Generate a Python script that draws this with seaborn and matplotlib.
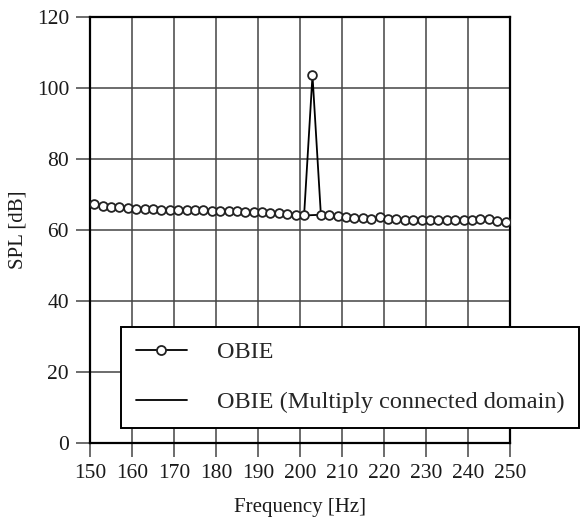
import matplotlib
matplotlib.use("Agg")
import matplotlib.pyplot as plt
import seaborn as sns
import pandas as pd

freq = list(range(151, 250, 2))
spl_obie = [67.2, 66.9, 66.6, 66.4, 66.2, 66.0, 65.9, 65.8, 65.7, 65.6,
            65.6, 65.5, 65.5, 65.5, 65.4, 65.4, 65.3, 65.3, 65.2, 65.1,
            65.0, 64.9, 64.7, 64.5, 64.3, 64.1, 103.5, 64.3, 64.1, 63.9,
            63.7, 63.5, 63.4, 63.2, 63.6, 63.1, 63.0, 62.9, 62.9, 62.8,
            62.8, 62.8, 62.8, 62.8, 62.8, 62.9, 63.0, 63.2, 62.5, 62.2]
spl_multi = [67.2, 66.9, 66.6, 66.4, 66.2, 66.0, 65.9, 65.8, 65.7, 65.6,
             65.6, 65.5, 65.5, 65.5, 65.4, 65.4, 65.3, 65.3, 65.2, 65.1,
             65.0, 64.9, 64.7, 64.5, 64.3, 64.1, 64.2, 64.3, 64.1, 63.9,
             63.7, 63.5, 63.4, 63.2, 63.6, 63.1, 63.0, 62.9, 62.9, 62.8,
             62.8, 62.8, 62.8, 62.8, 62.8, 62.9, 63.0, 63.2, 62.5, 62.2]
x_ticks = list(range(150, 251, 10))
y_ticks = list(range(0, 121, 20))

sns.set_theme(style="white")
plt.rcParams['font.family'] = ['Liberation Serif', 'DejaVu Serif']

fig = plt.figure(figsize=(5.84, 5.27), dpi=100)
ax = fig.add_axes([0.154, 0.159, 0.719, 0.809])

df1 = pd.DataFrame({"f": freq, "spl": spl_obie})
df2 = pd.DataFrame({"f": freq, "spl": spl_multi})

sns.lineplot(data=df2, x="f", y="spl", ax=ax, color="black", linewidth=1.3,
             label="OBIE (Multiply connected domain)", zorder=2)
sns.lineplot(data=df1, x="f", y="spl", ax=ax, color="black", linewidth=1.3,
             marker="o", markersize=6.3, markerfacecolor="white",
             markeredgecolor="#222222", markeredgewidth=1.3,
             label="OBIE", zorder=3)

ax.set_xlim(150, 250)
ax.set_ylim(0, 120)
ax.set_xticks(x_ticks)
ax.set_yticks(y_ticks)
ax.grid(True, color="#444444", linewidth=1.1)
ax.set_axisbelow(True)
for s in ax.spines.values():
    s.set_color("black")
    s.set_linewidth(1.6)
ax.tick_params(axis="both", direction="out", length=10, width=1.1,
               color="#444444", labelsize=15.5, pad=5, labelcolor="#1a1a1a")
ax.tick_params(axis="both", bottom=True, left=True)
ax.set_xlabel("Frequency [Hz]", fontsize=15, color="#1a1a1a", labelpad=11)
ax.set_ylabel("SPL [dB]", fontsize=15, color="#1a1a1a", labelpad=7)

handles, labels = ax.get_legend_handles_labels()
order = [labels.index("OBIE"), labels.index("OBIE (Multiply connected domain)")]
leg = ax.legend([handles[i] for i in order], [labels[i] for i in order],
                loc="lower left", bbox_to_anchor=(121 / 584, 1 - 428 / 527),
                bbox_transform=fig.transFigure, fontsize=17.5,
                frameon=True, fancybox=False, edgecolor="black",
                framealpha=1, handlelength=2.1, handletextpad=1.25,
                labelspacing=1.15, borderpad=0.6, borderaxespad=0)
leg.get_frame().set_linewidth(1.4)
for h in leg.legend_handles:
    try:
        h.set_markersize(6.5)
    except Exception:
        pass

fig.savefig("out.png", dpi=100)
